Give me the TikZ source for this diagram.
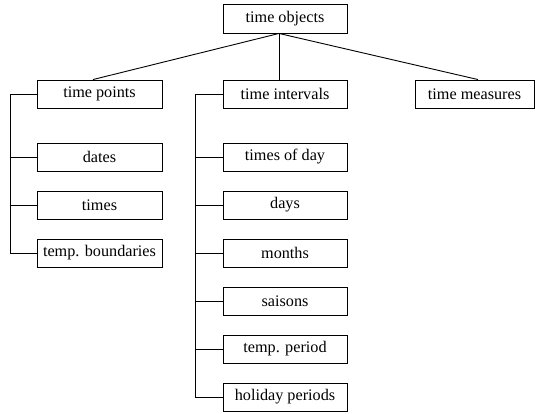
\documentclass[tikz,border=0pt]{standalone}
\usepackage{fontspec}
\setmainfont{Liberation Serif}
\usetikzlibrary{calc}
\begin{document}
\begin{tikzpicture}[x=1pt,y=-1pt,
  box/.style={draw, line width=0.9pt, inner sep=0pt, minimum height=28pt,
    font=\fontsize{16.2}{19}\selectfont},
  wide/.style={box, minimum width=125pt},
  mid/.style={box, minimum width=124pt},
  link/.style={line width=0.9pt}]
\useasboundingbox (0,0) rectangle (535,413);

% root
\node[mid, minimum height=29pt] (to) at (285,18.5) {time objects};

% first level
\node[wide] (tp) at (99.5,94) {time points};
\node[mid] (ti) at (285,94) {time intervals};
\node[box, minimum width=119pt] (tm) at (474.5,94) {time measures};

% time points branch
\node[wide] (dates) at (99.5,157) {dates};
\node[wide] (times) at (99.5,205) {times};
\node[wide] (tb)    at (99.5,253) {temp. boundaries};

% time intervals branch
\node[mid] (tod)    at (285,157) {times of day};
\node[mid] (days)   at (285,205) {days};
\node[mid] (months) at (285,253) {months};
\node[mid] (sais)   at (285,301) {saisons};
\node[mid] (tper)   at (285,349) {temp. period};
\node[mid] (hol)    at (285,397) {holiday periods};

% root fan
\coordinate (hub) at ($(to.south)+(-6,0)$);
\draw[link] (hub) -- ($(tp.north)+(-6.5,0)$);
\draw[link] (hub) -- ($(ti.north)+(-6,0)$);
\draw[link] (hub) -- ($(tm.north)+(3.5,0)$);

% left bus
\draw[link] (tp.west) -- ++(-26,0) |- (tb.west);
\draw[link] (dates.west) -- ++(-26,0);
\draw[link] (times.west) -- ++(-26,0);

% middle bus
\draw[link] (ti.west) -- ++(-27,0) |- (hol.west);
\foreach \n in {tod,days,months,sais,tper}
  \draw[link] (\n.west) -- ++(-27,0);
\end{tikzpicture}
\end{document}
